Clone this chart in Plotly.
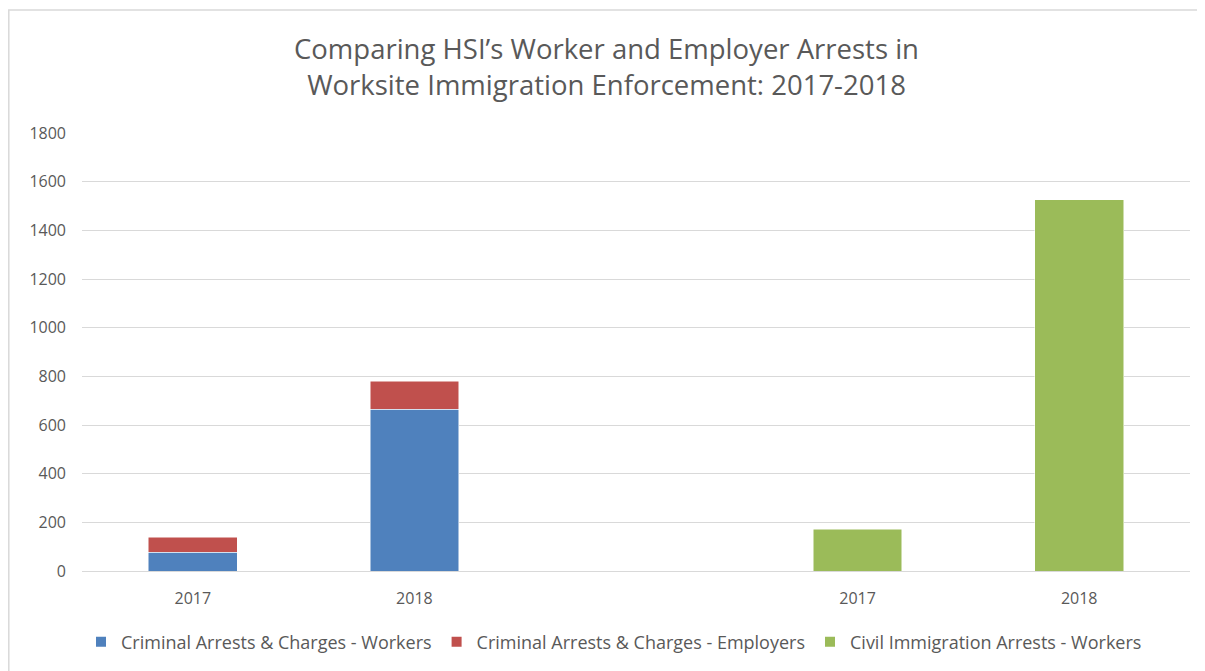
import plotly.graph_objects as go

tick_labels = ["2017", "2018", "2017", "2018"]
crim_x = [0, 1]
civil_x = [3, 4]
crim_workers = [78, 665]
crim_employers = [61, 114]
civil_workers = [172, 1525]

# page has an 8px body margin, so the figure is sized/offset to compensate
W, H = 1197, 663
L, R, T, B = 74, 15, 125, 100
pw, ph = W - L - R, H - T - B

font = "Open Sans, sans-serif"
gray = "#595959"

fig = go.Figure()
fig.add_trace(go.Bar(x=crim_x, y=crim_workers, name="Criminal Arrests & Charges - Workers",
                     marker=dict(color="#4F81BD", line=dict(color="#FFFFFF", width=0.5))))
fig.add_trace(go.Bar(x=crim_x, y=crim_employers, name="Criminal Arrests & Charges - Employers",
                     marker=dict(color="#C0504D", line=dict(color="#FFFFFF", width=0.5))))
fig.add_trace(go.Bar(x=civil_x, y=civil_workers, name="Civil Immigration Arrests - Workers",
                     marker=dict(color="#9BBB59", line=dict(color="#FFFFFF", width=0.5))))

def px2x(p):
    return (p - L) / pw

def py2y(p):
    return (H - B - p) / ph

fig.update_layout(
    width=W, height=H,
    margin=dict(l=L, r=R, t=T, b=B, autoexpand=False),
    barmode="stack", bargap=0.6,
    paper_bgcolor="white", plot_bgcolor="white",
    font=dict(family=font, color=gray, size=16),
    title=dict(text="Comparing HSI’s Worker and Employer Arrests in<br>Worksite Immigration Enforcement: 2017-2018",
               x=0.5, xref="container", xanchor="center", y=1 - 51 / H, yanchor="middle",
               font=dict(size=27.5, color=gray, family=font)),
    xaxis=dict(range=[-0.5, 4.5], tickvals=[0, 1, 3, 4], ticktext=tick_labels,
               showgrid=False, zeroline=False, showline=False, ticks="",
               tickfont=dict(size=16, color=gray), ticklabelstandoff=16),
    yaxis=dict(range=[0, 1800], dtick=200, showgrid=True, gridcolor="#D9D9D9", gridwidth=1.3,
               zeroline=True, zerolinecolor="#D9D9D9", zerolinewidth=1.3, showline=False,
               ticks="", tickfont=dict(size=16, color=gray), ticklabelstandoff=15),
    legend=dict(orientation="h", x=px2x(606), xanchor="center", y=py2y(634), yanchor="middle",
                font=dict(size=18, color=gray, family=font), itemwidth=30, traceorder="normal",
                itemsizing="constant"),
    showlegend=True,
    shapes=[dict(type="rect", xref="paper", yref="paper",
                 x0=px2x(0.8), x1=px2x(1230), y0=py2y(700), y1=py2y(2),
                 line=dict(color="#D9D9D9", width=1.5), fillcolor="rgba(0,0,0,0)", layer="below")],
)
fig.write_html("out.html")
